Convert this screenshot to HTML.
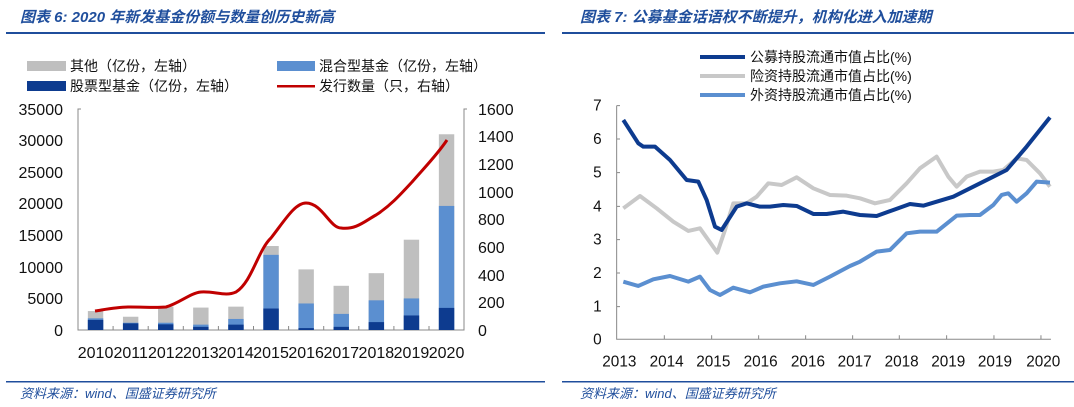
<!DOCTYPE html>
<html><head><meta charset="utf-8"><style>
body{margin:0;background:#fff;}
svg{display:block;font-family:"Liberation Sans","Noto Sans CJK SC",sans-serif;}
.t{font-style:italic;fill:#1f4e9c;font-size:15px;font-weight:bold;}
.s{font-style:italic;fill:#1f4e9c;font-size:13px;}
.ax{font-size:16px;fill:#111;}
.lg{font-size:14px;fill:#111;}
</style></head><body>
<svg width="1074" height="407" viewBox="0 0 1074 407" xmlns="http://www.w3.org/2000/svg">
<text x="20" y="22" class="t">图表 6:  2020 年新发基金份额与数量创历史新高</text>
<rect x="6" y="32" width="539" height="2" fill="#1f4e9c"/>
<text x="580" y="22" class="t">图表 7:  公募基金话语权不断提升，机构化进入加速期</text>
<rect x="562" y="32" width="512" height="2" fill="#1f4e9c"/>
<rect x="6" y="381" width="539" height="1.5" fill="#1f4e9c"/>
<rect x="562" y="381" width="512" height="1.5" fill="#1f4e9c"/>
<text x="20" y="398" class="s">资料来源：wind、国盛证券研究所</text>
<text x="580" y="398" class="s">资料来源：wind、国盛证券研究所</text>

<rect x="27" y="61" width="39" height="10" fill="#bfbfbf"/><text x="70" y="71" class="lg">其他（亿份，左轴）</text>
<rect x="277" y="61" width="38" height="10" fill="#5b8fd0"/><text x="319" y="71" class="lg">混合型基金（亿份，左轴）</text>
<rect x="27" y="81" width="39" height="10" fill="#0d3b8f"/><text x="70" y="91" class="lg">股票型基金（亿份，左轴）</text>
<rect x="277" y="85" width="38" height="2.5" fill="#c00000"/><text x="319" y="91" class="lg">发行数量（只，右轴）</text>

<g class="ax" text-anchor="end">
<text x="63" y="115">35000</text><text x="63" y="146">30000</text><text x="63" y="178">25000</text><text x="63" y="209">20000</text><text x="63" y="241">15000</text><text x="63" y="273">10000</text><text x="63" y="304">5000</text><text x="63" y="336">0</text>
</g>
<g class="ax">
<text x="478" y="115">1600</text><text x="478" y="142">1400</text><text x="478" y="170">1200</text><text x="478" y="198">1000</text><text x="478" y="225">800</text><text x="478" y="253">600</text><text x="478" y="281">400</text><text x="478" y="308">200</text><text x="478" y="336">0</text>
</g>
<path d="M81,109 H78 V330 H464 V109 H467" fill="none" stroke="#888" stroke-width="1"/>
<g id="bars"></g>
<g class="ax" text-anchor="middle" id="xl"></g>
<path d="M95,311 C108,309 118,307 130,307 C145,307 155,308 166,307 C180,303 190,293 201,292 C215,291 225,297 236,292 C252,282 258,250 271,238 C285,220 295,203 306,203 C322,203 330,228 341,228 C356,230 365,221 376,215 C390,206 400,195 412,182 C425,167 437,155 447,140" fill="none" stroke="#c00000" stroke-width="3"/>

<g transform="translate(560,90) scale(0.3333)">
<g font-size="46" fill="#111" text-anchor="end">
<text x="125" y="62">7</text><text x="125" y="162">6</text><text x="125" y="263">5</text><text x="125" y="364">4</text><text x="125" y="464">3</text><text x="125" y="564">2</text><text x="125" y="665">1</text><text x="125" y="763">0</text>
</g>
<g font-size="46" fill="#111" text-anchor="middle">
<text x="178" y="830">2013</text><text x="320" y="830">2014</text><text x="460" y="830">2015</text><text x="602" y="830">2016</text><text x="744" y="830">2016</text><text x="884" y="830">2017</text><text x="1025" y="830">2018</text><text x="1165" y="830">2019</text><text x="1305" y="830">2019</text><text x="1450" y="830">2020</text>
</g>
<path d="M170,47 V748 H1473 M170,47 H180 M170,147 H180 M170,248 H180 M170,349 H180 M170,449 H180 M170,549 H180 M170,650 H180 M313,748 V736 M455,748 V736 M596,748 V736 M737,748 V736 M878,748 V736 M1018,748 V736 M1160,748 V736 M1302,748 V736 M1443,748 V736" fill="none" stroke="#888" stroke-width="3"/>
<polyline fill="none" stroke="#c8c8c8" stroke-width="12" stroke-linejoin="round" points="190,355 240,318 290,355 340,395 385,423 420,415 445,450 472,488 495,420 520,340 560,340 590,320 625,280 665,285 710,262 760,295 810,315 860,317 900,325 945,340 990,330 1040,280 1080,235 1130,200 1165,260 1190,290 1220,260 1260,245 1300,245 1330,240 1370,205 1400,210 1440,250 1470,290"/>
<polyline fill="none" stroke="#5b8fd0" stroke-width="12" stroke-linejoin="round" points="190,575 235,588 280,568 330,558 385,575 420,560 450,600 480,615 520,593 570,607 610,590 660,580 710,574 760,585 810,560 870,528 900,515 950,485 990,480 1040,430 1080,425 1130,425 1190,377 1230,375 1260,375 1300,345 1325,315 1345,310 1370,335 1400,310 1430,275 1470,278"/>
<polyline fill="none" stroke="#0d3b8f" stroke-width="12" stroke-linejoin="round" points="190,90 235,160 250,170 285,170 330,210 380,270 415,275 440,330 465,410 485,420 530,350 560,340 600,350 630,350 670,345 710,348 760,372 800,372 850,365 900,375 950,378 1000,360 1050,342 1090,347 1130,335 1180,320 1240,290 1300,260 1340,240 1400,170 1470,82"/>
</g>
<rect x="700" y="55" width="45" height="4" fill="#0d3b8f"/><text x="750" y="62" class="lg">公募持股流通市值占比(%)</text>
<rect x="700" y="74" width="45" height="4" fill="#c8c8c8"/><text x="750" y="81" class="lg">险资持股流通市值占比(%)</text>
<rect x="700" y="93" width="45" height="4" fill="#5b8fd0"/><text x="750" y="100" class="lg">外资持股流通市值占比(%)</text>
</svg>
<script>
var d=[[3000,1850,1600],[2100,1150,1050],[3700,1150,900],[3550,850,500],[3700,1750,850],[13300,11900,3400],[9600,4200,300],[7000,2550,500],[9000,4700,1250],[14300,5000,2300],[31000,19650,3500]];
var ns="http://www.w3.org/2000/svg",g=document.getElementById('bars'),xl=document.getElementById('xl');
function y(v){return 330-v/35000*221;}
d.forEach(function(r,i){var cx=78+35.1*(i+0.5),x=cx-7.7;
[[r[0],'#bfbfbf'],[r[1],'#5b8fd0'],[r[2],'#0d3b8f']].forEach(function(b){var e=document.createElementNS(ns,'rect');e.setAttribute('x',x);e.setAttribute('width',15.4);e.setAttribute('y',y(b[0]));e.setAttribute('height',330-y(b[0]));e.setAttribute('fill',b[1]);g.appendChild(e);});
var t=document.createElementNS(ns,'text');t.setAttribute('x',cx);t.setAttribute('y',358);t.textContent=2010+i;xl.appendChild(t);
if(i>0){var l=document.createElementNS(ns,'line');l.setAttribute('x1',78+35.1*i);l.setAttribute('x2',78+35.1*i);l.setAttribute('y1',330);l.setAttribute('y2',326);l.setAttribute('stroke','#888');g.appendChild(l);}
});
</script>
</body></html>
